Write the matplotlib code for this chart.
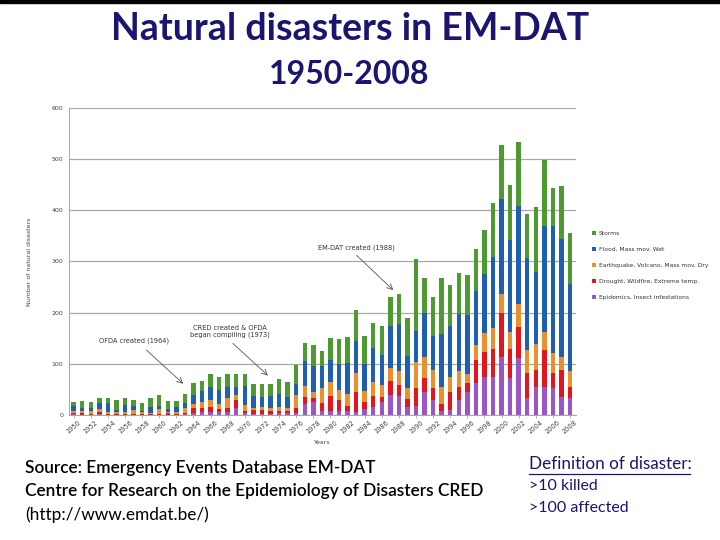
import numpy as np
import matplotlib.pyplot as plt
from matplotlib.lines import Line2D
from matplotlib.patches import Rectangle

years = np.arange(1950, 2009)

# number of disasters per year, by type
epidemics = [1, 0, 0, 1, 0, 0, 0, 0, 0, 0, 0, 0, 0, 1, 4, 5, 5, 6, 5, 13, 3, 2, 2, 2, 3, 3, 3,
             21, 25, 7, 8, 7, 8, 5, 12, 15, 25, 39, 37, 15, 18, 44, 30, 7, 10, 29, 44,
             62, 75, 75, 114, 72, 111, 33, 54, 54, 52, 35, 33]
drought = [2, 3, 1, 4, 1, 1, 1, 1, 2, 1, 1, 3, 2, 2, 9, 9, 10, 5, 9, 17, 5, 7, 7, 6, 5, 4, 10,
           15, 9, 16, 30, 22, 10, 39, 14, 22, 10, 28, 22, 16, 35, 29, 23, 14, 34, 25, 18,
           46, 49, 54, 85, 57, 61, 50, 33, 73, 31, 52, 22]
quake = [5, 4, 7, 7, 5, 4, 5, 8, 3, 3, 10, 3, 3, 10, 9, 11, 14, 11, 19, 9, 11, 4, 6, 5, 7, 7, 26,
         21, 10, 29, 27, 19, 24, 38, 20, 27, 24, 24, 27, 22, 50, 41, 35, 34, 31, 31, 19,
         29, 36, 41, 38, 33, 45, 44, 51, 35, 38, 26, 31]
flood = [9, 6, 5, 12, 18, 5, 13, 9, 2, 12, 7, 6, 10, 11, 18, 22, 26, 27, 22, 15, 37, 25, 20, 24,
         27, 22, 22, 49, 51, 43, 43, 51, 59, 63, 53, 66, 59, 82, 91, 62, 62, 85, 67, 103,
         98, 112, 115, 106, 115, 138, 186, 180, 191, 180, 142, 207, 248, 231, 170]
storms = [8, 14, 12, 10, 9, 20, 15, 11, 17, 17, 21, 15, 13, 18, 22, 19, 26, 25, 26, 26, 25, 23,
          25, 23, 28, 28, 37, 35, 42, 30, 42, 49, 51, 60, 56, 49, 56, 58, 60, 74, 139,
          68, 76, 109, 81, 81, 78, 81, 87, 107, 104, 108, 125, 85, 127, 129, 74, 104, 99]

series = [
    (epidemics, '#9b55c8', 'Epidemics, Insect infestations'),
    (drought, '#e3161d', 'Drought, Wildfire, Extreme temp.'),
    (quake, '#e8912e', 'Earthquake, Volcano, Mass mov. Dry'),
    (flood, '#1f5fb0', 'Flood, Mass mov. Wet'),
    (storms, '#4d9a31', 'Storms'),
]

fig = plt.figure(figsize=(7.2, 5.4), dpi=100)
ax = fig.add_axes([0.0958, 0.2315, 0.7042, 0.5685])

bottom = np.zeros(len(years))
handles = []
for vals, col, lab in series:
    vals = np.array(vals, dtype=float)
    b = ax.bar(years, vals, bottom=bottom, width=0.52, color=col, label=lab, linewidth=0)
    handles.append(b)
    bottom += vals

ax.set_xlim(1949.45, 2008.7)
ax.set_ylim(0, 600)
ax.set_yticks(range(0, 601, 100))
ax.set_xticks(years[::2])
ax.set_xticklabels([str(y) for y in years[::2]], rotation=40, fontsize=4.8, color='#444444')
ax.tick_params(axis='y', labelsize=4.5, labelcolor='#444444', length=0, pad=4)
ax.tick_params(axis='x', length=2, width=0.5, color='#999999', pad=1)
ax.grid(axis='y', color='#a8a8a8', linewidth=0.9)
ax.set_axisbelow(True)
for s in ['top', 'right']:
    ax.spines[s].set_visible(False)
ax.spines['left'].set_color('#999999')
ax.spines['bottom'].set_color('#999999')
ax.spines['left'].set_linewidth(0.6)
ax.spines['bottom'].set_linewidth(0.6)
ax.set_ylabel('Number of natural disasters', fontsize=4.5, color='#444444', labelpad=14)
ax.set_xlabel('Years', fontsize=4.5, color='#444444', labelpad=4)

arrow = dict(arrowstyle='->', color='#555555', lw=0.6, shrinkA=0, shrinkB=0)
ax.annotate('OFDA created (1964)', xy=(1962.8, 61), xytext=(1957.1, 145),
            fontsize=4.8, color='#333333', ha='center', va='center')
ax.annotate('', xy=(1962.8, 61), xytext=(1958.5, 127), arrowprops=arrow)
ax.annotate('CRED created & OFDA\nbegan compiling (1973)', xy=(1972.7, 77),
            xytext=(1968.3, 163), fontsize=4.8, color='#333333', ha='center', va='center')
ax.annotate('', xy=(1972.7, 77), xytext=(1968.6, 140), arrowprops=arrow)
ax.annotate('EM-DAT created (1988)', xy=(1987.35, 244), xytext=(1983.0, 327),
            fontsize=4.8, color='#333333', ha='center', va='center')
ax.annotate('', xy=(1987.35, 244), xytext=(1983.06, 312), arrowprops=arrow)

ax.legend(handles[::-1], [s[2] for s in series][::-1], loc='upper left',
          bbox_to_anchor=(0.815, 0.582), bbox_transform=fig.transFigure,
          frameon=False, fontsize=4.3, handlelength=0.6, handleheight=0.6,
          handletextpad=0.5, labelspacing=1.85, labelcolor='#333333')

navy = '#1a1670'
fig.text(0.486, 0.946, 'Natural disasters in EM-DAT', ha='center', va='center',
         fontsize=27, fontweight='bold', color=navy, family='Lato')
fig.text(0.485, 0.862, '1950-2008', ha='center', va='center',
         fontsize=23, fontweight='bold', color=navy, family='Lato')

fig.text(0.035, 0.133, 'Source: Emergency Events Database EM-DAT', fontsize=12.4,
         fontweight='semibold', family='Lato', va='center')
fig.text(0.035, 0.090, 'Centre for Research on the Epidemiology of Disasters CRED',
         fontsize=12.4, fontweight='semibold', family='Lato', va='center')
fig.text(0.035, 0.047, '(http://www.emdat.be/)', fontsize=12.4, family='Lato', va='center')

fig.text(0.735, 0.141, 'Definition of disaster:', fontsize=12.3, color=navy,
         family='Lato', va='center')
fig.add_artist(Line2D([0.735, 0.958], [0.122, 0.122], color=navy, lw=0.9))
fig.text(0.735, 0.100, '>10 killed', fontsize=11.5, color=navy, family='Lato', va='center')
fig.text(0.735, 0.059, '>100 affected', fontsize=11.5, color=navy, family='Lato', va='center')

fig.add_artist(Rectangle((0, 0.994), 1, 0.006, color='black', transform=fig.transFigure))

fig.savefig('out.png', dpi=100)
